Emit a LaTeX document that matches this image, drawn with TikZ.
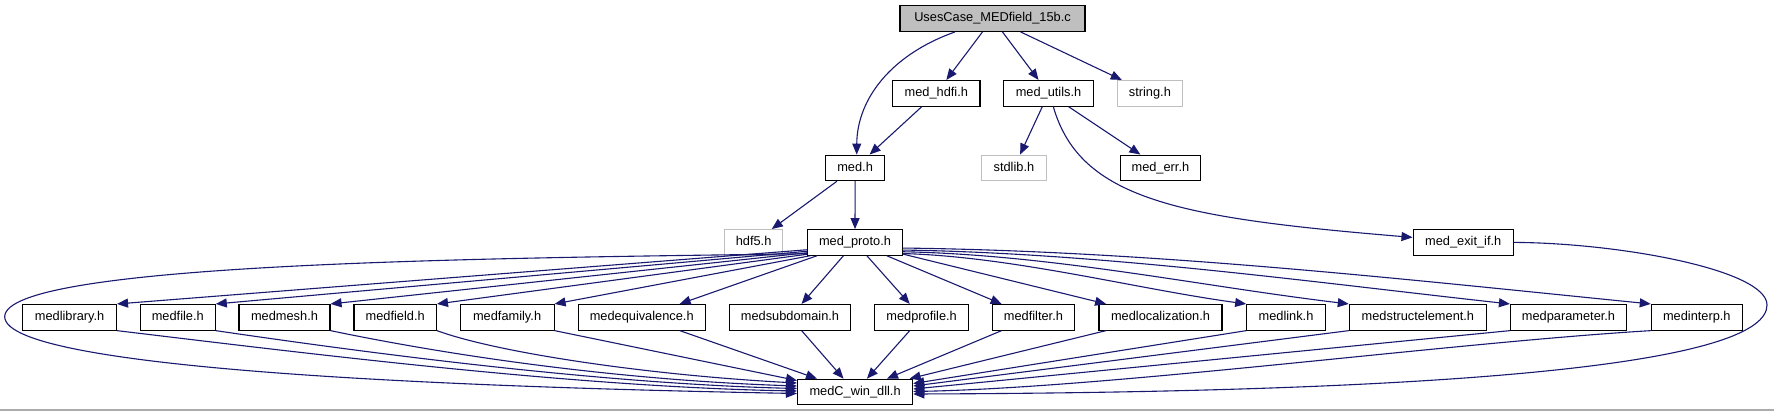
\documentclass[tikz,border=0pt]{standalone}
\usepackage{fontspec}
\setmainfont{Liberation Sans}
\usetikzlibrary{arrows.meta}
\definecolor{edgec}{HTML}{191970}
\definecolor{grayb}{HTML}{BFBFBF}
\begin{document}
\begin{tikzpicture}[x=1pt,y=-1pt,
  box/.style={draw=black,line width=1.1pt,inner sep=0pt,minimum height=25.6pt,
    text height=9.3pt,text depth=2.7pt,font=\fontsize{12.8}{14}\selectfont,text=black},
  sysbox/.style={box,draw=grayb},
  edge/.style={draw=edgec,line width=1.1pt,-{Triangle[length=11pt,width=9pt]}}]
\useasboundingbox (0,0) rectangle (1774,411);
\fill[white] (0,0) rectangle (1774,411);
\draw[gray!65,line width=1.6pt] (0,410.2) -- (1774,410.2);
% nodes
\node[box,fill=grayb,minimum width=185pt] (top) at (992.5,18.6) {UsesCase\_MEDfield\_15b.c};
\node[box,minimum width=87.3pt] (hdfi) at (936.3,93.3) {med\_hdfi.h};
\node[box,minimum width=89.6pt] (utils) at (1048.5,93.3) {med\_utils.h};
\node[sysbox,minimum width=65.7pt] (string) at (1149.9,93.3) {string.h};
\node[box,minimum width=58.8pt] (med) at (855.1,167.9) {med.h};
\node[sysbox,minimum width=64.3pt] (stdlib) at (1013.9,167.9) {stdlib.h};
\node[box,minimum width=80.2pt] (err) at (1160.4,167.9) {med\_err.h};
\node[sysbox,minimum width=58.5pt] (hdf5) at (753.6,242.4) {hdf5.h};
\node[box,minimum width=94.5pt] (proto) at (855,242.4) {med\_proto.h};
\node[box,minimum width=100.3pt] (exitif) at (1463.2,242.4) {med\_exit\_if.h};
\node[box,minimum width=93.8pt] (medlibrary) at (69.6,317.3) {medlibrary.h};
\node[box,minimum width=74.9pt] (medfile) at (177.8,317.3) {medfile.h};
\node[box,minimum width=91pt] (medmesh) at (284.5,317.3) {medmesh.h};
\node[box,minimum width=82.5pt] (medfield) at (395.2,317.3) {medfield.h};
\node[box,minimum width=93.9pt] (medfamily) at (507.1,317.3) {medfamily.h};
\node[box,minimum width=127pt] (medequivalence) at (641.7,317.3) {medequivalence.h};
\node[box,minimum width=121.4pt] (medsubdomain) at (790,317.3) {medsubdomain.h};
\node[box,minimum width=93.7pt] (medprofile) at (921.6,317.3) {medprofile.h};
\node[box,minimum width=82.2pt] (medfilter) at (1033.4,317.3) {medfilter.h};
\node[box,minimum width=123pt] (medlocalization) at (1160.5,317.3) {medlocalization.h};
\node[box,minimum width=78.6pt] (medlink) at (1286,317.3) {medlink.h};
\node[box,minimum width=137.2pt] (medstructelement) at (1417.9,317.3) {medstructelement.h};
\node[box,minimum width=116.1pt] (medparameter) at (1568.5,317.3) {medparameter.h};
\node[box,minimum width=91pt] (medinterp) at (1696.8,317.3) {medinterp.h};
\node[box,minimum width=115.2pt] (medC) at (855.1,392) {medC\_win\_dll.h};
% top level edges
\draw[edge] ([xshift=-37.5pt]top.south) .. controls (890,55) and (857,100) .. ([xshift=1.6pt]med.north);
\draw[edge] (top) -- (hdfi);
\draw[edge] (top) -- (utils);
\draw[edge] (top) -- (string);
\draw[edge] (hdfi) -- (med);
\draw[edge] (utils) -- (stdlib);
\draw[edge] (utils) -- (err);
\draw[edge] ([xshift=4.8pt]utils.south) .. controls (1080,200) and (1180,218) .. ([yshift=5pt]exitif.west);
\draw[edge] (med) -- (hdf5);
\draw[edge] (med) -- (proto);
% proto to row 4
\draw[edge] ([yshift=6pt]proto.south west) -- (medlibrary.north east);
\draw[edge] ([yshift=4.5pt]proto.south west) -- (medfile.north east);
\draw[edge] ([yshift=3pt]proto.south west) -- (medmesh.north east);
\draw[edge] ([yshift=1.5pt]proto.south west) -- (medfield.north east);
\draw[edge] ([xshift=3pt]proto.south west) -- (medfamily.north east);
\draw[edge] (proto) -- (medequivalence);
\draw[edge] (proto) -- (medsubdomain);
\draw[edge] (proto) -- (medprofile);
\draw[edge] (proto) -- (medfilter);
\draw[edge] (proto) -- (medlocalization);
\draw[edge] ([yshift=2.2pt]proto.south east) .. controls +(110,3) and +(-110,-15) .. (medlink.north west);
\draw[edge] ([yshift=4pt]proto.south east) .. controls +(150,3) and +(-150,-18) .. (medstructelement.north west);
\draw[edge] ([yshift=5.7pt]proto.south east) .. controls +(200,3) and +(-200,-22) .. (medparameter.north west);
\draw[edge] ([yshift=7.7pt]proto.south east) .. controls +(250,3) and +(-250,-25) .. (medinterp.north west);
% proto direct to medC (left loop)
\draw[edge] ([yshift=2pt]proto.south west) .. controls (500,258) and (5,262) .. (4.7,316.7)
  .. controls (5,372) and (500,388) .. ([yshift=-1.5pt]medC.west);
% exit_if to medC (right loop)
\draw[edge] (exitif.east) .. controls (1620,243) and (1767,270) .. (1767,305)
  .. controls (1767,360) and (1500,392) .. ([yshift=-2pt]medC.east);
% row 4 to medC
\draw[edge] (medlibrary.south east) .. controls +(200,24) and +(-220,-4) .. ([yshift=1pt]medC.west);
\draw[edge] (medfile.south east) .. controls +(150,22) and +(-200,-5) .. ([yshift=3.5pt]medC.west);
\draw[edge] (medmesh.south east) .. controls +(120,25) and +(-180,-6) .. ([yshift=6pt]medC.west);
\draw[edge] (medfield.south east) .. controls +(60,22) and +(-150,-8) .. ([yshift=9pt]medC.west);
\draw[edge] (medfamily.south east) -- ([yshift=11.5pt]medC.west);
\draw[edge] (medequivalence) -- (medC);
\draw[edge] (medsubdomain) -- (medC);
\draw[edge] (medprofile) -- (medC);
\draw[edge] (medfilter) -- (medC);
\draw[edge] (medlocalization) -- (medC);
\draw[edge] (medlink.south west) -- ([yshift=8.5pt]medC.east);
\draw[edge] (medstructelement.south west) -- ([yshift=6pt]medC.east);
\draw[edge] (medparameter.south west) -- ([yshift=3pt]medC.east);
\draw[edge] (medinterp.south west) .. controls +(-200,12) and +(200,-4) .. ([yshift=0.5pt]medC.east);
\end{tikzpicture}
\end{document}
